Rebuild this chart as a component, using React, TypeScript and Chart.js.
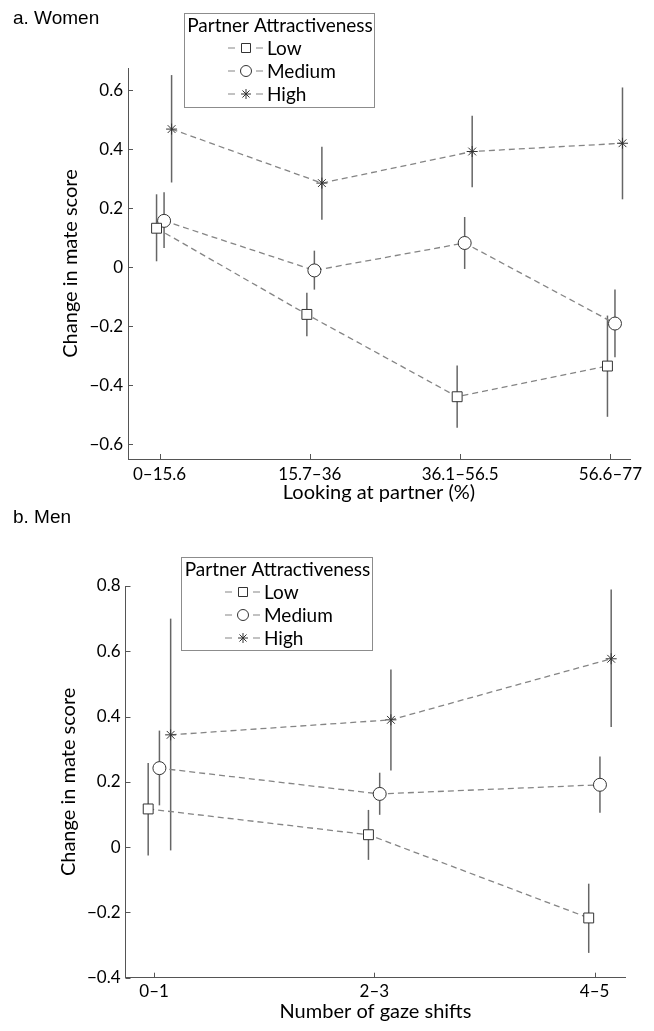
import React, { useEffect, useRef } from 'react';
import { Chart, registerables } from 'chart.js';

Chart.register(...registerables);

// ---------- DATA ----------
const womenCategories = ['0–15.6', '15.7–36', '36.1–56.5', '56.6–77'];
const womenYTicks = [-0.6, -0.4, -0.2, 0, 0.2, 0.4, 0.6];
const womenLow = [0.132, -0.16, -0.439, -0.335];
const womenLowLo = [0.02, -0.234, -0.544, -0.507];
const womenLowHi = [0.247, -0.087, -0.333, -0.164];
const womenMedium = [0.157, -0.011, 0.082, -0.191];
const womenMediumLo = [0.065, -0.076, -0.006, -0.305];
const womenMediumHi = [0.254, 0.056, 0.17, -0.076];
const womenHigh = [0.468, 0.285, 0.392, 0.42];
const womenHighLo = [0.287, 0.161, 0.271, 0.23];
const womenHighHi = [0.651, 0.408, 0.513, 0.609];

const menCategories = ['0–1', '2–3', '4–5'];
const menYTicks = [-0.4, -0.2, 0, 0.2, 0.4, 0.6, 0.8];
const menLow = [0.117, 0.038, -0.217];
const menLowLo = [-0.026, -0.039, -0.324];
const menLowHi = [0.258, 0.114, -0.112];
const menMedium = [0.242, 0.163, 0.191];
const menMediumLo = [0.128, 0.099, 0.105];
const menMediumHi = [0.357, 0.228, 0.278];
const menHigh = [0.344, 0.39, 0.577];
const menHighLo = [-0.01, 0.235, 0.368];
const menHighHi = [0.7, 0.544, 0.789];

const seriesNames = ['Low', 'Medium', 'High'];
const legendTitle = 'Partner Attractiveness';

// ---------- STYLE ----------
const FONT = 'Lato';
const LINE_COLOR = '#858585';
const MARKER_COLOR = '#333333';
const ERR_COLOR = '#666666';
const AXIS_COLOR = '#555555';
const TEXT_COLOR = '#000000';

const markerStyles = [
  { pointStyle: 'rect', radius: 7 },
  { pointStyle: 'circle', radius: 6.5 },
  { pointStyle: 'star', radius: 5.5 },
];

function fmtY(v: number): string {
  if (Math.abs(v) < 1e-9) return '0';
  const s = Math.abs(v).toFixed(1);
  return v < 0 ? '\u2212' + s : s;
}

function drawMarker(ctx: CanvasRenderingContext2D, style: string, x: number, y: number, r: number) {
  ctx.save();
  ctx.fillStyle = '#ffffff';
  ctx.strokeStyle = MARKER_COLOR;
  ctx.lineWidth = 1;
  ctx.beginPath();
  if (style === 'rect') {
    ctx.rect(x - r, y - r, 2 * r, 2 * r);
    ctx.fill();
    ctx.stroke();
  } else if (style === 'circle') {
    ctx.arc(x, y, r, 0, Math.PI * 2);
    ctx.fill();
    ctx.stroke();
  } else {
    const d = r * Math.SQRT1_2;
    ctx.moveTo(x - r, y); ctx.lineTo(x + r, y);
    ctx.moveTo(x, y - r); ctx.lineTo(x, y + r);
    ctx.moveTo(x - d, y - d); ctx.lineTo(x + d, y + d);
    ctx.moveTo(x - d, y + d); ctx.lineTo(x + d, y - d);
    ctx.stroke();
  }
  ctx.restore();
}

const figurePlugin = {
  id: 'figure',
  beforeDatasetsDraw(chart: any, _args: any, opts: any) {
    const { ctx, scales } = chart;
    const x = scales.x, y = scales.y;
    ctx.save();
    ctx.strokeStyle = ERR_COLOR;
    ctx.lineWidth = 1.5;
    opts.errors.forEach((s: any) => {
      s.lo.forEach((lo: number, i: number) => {
        const px = x.getPixelForValue(i + 1 + s.offset);
        ctx.beginPath();
        ctx.moveTo(px, y.getPixelForValue(lo));
        ctx.lineTo(px, y.getPixelForValue(s.hi[i]));
        ctx.stroke();
      });
    });
    ctx.restore();
  },
  afterDraw(chart: any, _args: any, opts: any) {
    const { ctx, scales, chartArea } = chart;
    const x = scales.x, y = scales.y;
    ctx.save();
    // inside tick marks
    ctx.strokeStyle = AXIS_COLOR;
    ctx.lineWidth = 1;
    x.ticks.forEach((t: any) => {
      const px = Math.round(x.getPixelForValue(t.value)) + 0.5;
      ctx.beginPath();
      ctx.moveTo(px, chartArea.bottom);
      ctx.lineTo(px, chartArea.bottom - 5);
      ctx.stroke();
    });
    y.ticks.forEach((t: any) => {
      const py = Math.round(y.getPixelForValue(t.value)) + 0.5;
      ctx.beginPath();
      ctx.moveTo(chartArea.left, py);
      ctx.lineTo(chartArea.left + 5, py);
      ctx.stroke();
    });
    // panel label
    ctx.fillStyle = TEXT_COLOR;
    ctx.font = '19px "Liberation Sans", Arial, sans-serif';
    ctx.textAlign = 'left';
    ctx.textBaseline = 'alphabetic';
    ctx.fillText(opts.label, 13, opts.labelY);
    // legend
    const L = opts.legend;
    ctx.fillStyle = '#ffffff';
    ctx.fillRect(L.left, L.top, L.width, L.height);
    ctx.strokeStyle = '#8c8c8c';
    ctx.lineWidth = 1;
    ctx.strokeRect(L.left + 0.5, L.top + 0.5, L.width, L.height);
    ctx.fillStyle = TEXT_COLOR;
    ctx.font = `19px ${FONT}`;
    ctx.textAlign = 'center';
    ctx.textBaseline = 'middle';
    ctx.fillText(legendTitle, L.left + L.width / 2 + 1, L.top + 13);
    seriesNames.forEach((name, i) => {
      const ry = L.top + 35 + i * 23;
      const mx = L.left + 62;
      ctx.save();
      ctx.strokeStyle = LINE_COLOR;
      ctx.lineWidth = 1.2;
      ctx.beginPath();
      ctx.moveTo(mx - 18, ry); ctx.lineTo(mx - 11, ry);
      ctx.moveTo(mx + 10, ry); ctx.lineTo(mx + 17, ry);
      ctx.stroke();
      ctx.restore();
      const ms = markerStyles[i];
      drawMarker(ctx, ms.pointStyle, mx, ry, ms.pointStyle === 'rect' ? 4.5 : ms.pointStyle === 'circle' ? 5.5 : 5);
      ctx.fillStyle = TEXT_COLOR;
      ctx.font = `19px ${FONT}`;
      ctx.textAlign = 'left';
      ctx.textBaseline = 'middle';
      ctx.fillText(name, mx + 21, ry + 1);
    });
    ctx.restore();
  },
};

interface PanelSpec {
  categories: string[];
  yTicks: number[];
  series: number[][];
  los: number[][];
  his: number[][];
  offsets: number[];
  xMin: number; xMax: number; yMin: number; yMax: number;
  xTitle: string;
  label: string; labelY: number;
  padTop: number; padRight: number;
  yWidth: number; xHeight: number;
  tickPadX: number; titlePadX: number; titlePadY: number;
  legend: { left: number; top: number; width: number; height: number };
}

function buildConfig(p: PanelSpec): any {
  const datasets = p.series.map((vals, si) => ({
    label: seriesNames[si],
    data: vals.map((v, i) => ({ x: i + 1 + p.offsets[si], y: v })),
    borderColor: LINE_COLOR,
    borderWidth: 1.3,
    borderDash: [6, 4],
    fill: false,
    tension: 0,
    pointStyle: markerStyles[si].pointStyle,
    pointRadius: markerStyles[si].radius,
    pointBackgroundColor: '#ffffff',
    pointBorderColor: MARKER_COLOR,
    pointBorderWidth: 1,
  }));
  const font = { family: FONT, size: 17 };
  const titleFont = { family: FONT, size: 20 };
  return {
    type: 'line',
    data: { datasets },
    plugins: [figurePlugin],
    options: {
      animation: false,
      responsive: false,
      maintainAspectRatio: false,
      layout: { padding: { top: p.padTop, right: p.padRight, left: 0, bottom: 0 } },
      plugins: {
        legend: { display: false },
        tooltip: { enabled: false },
        figure: {
          errors: p.los.map((lo, si) => ({ lo, hi: p.his[si], offset: p.offsets[si] })),
          label: p.label,
          labelY: p.labelY,
          legend: p.legend,
        },
      },
      scales: {
        x: {
          type: 'linear',
          min: p.xMin,
          max: p.xMax,
          grid: { display: false, drawTicks: false },
          border: { display: true, color: AXIS_COLOR, width: 1 },
          afterBuildTicks: (s: any) => { s.ticks = p.categories.map((_, i) => ({ value: i + 1 })); },
          afterFit: (s: any) => { s.height = p.xHeight; },
          ticks: {
            autoSkip: false,
            maxRotation: 0,
            padding: p.tickPadX,
            color: TEXT_COLOR,
            font,
            callback: (_v: any, i: number) => p.categories[i] ?? '',
          },
          title: { display: true, text: p.xTitle, color: TEXT_COLOR, font: titleFont, padding: { top: 0, bottom: p.titlePadX } },
        },
        y: {
          type: 'linear',
          min: p.yMin,
          max: p.yMax,
          grid: { display: false, drawTicks: false },
          border: { display: true, color: AXIS_COLOR, width: 1 },
          afterBuildTicks: (s: any) => { s.ticks = p.yTicks.map((v) => ({ value: v })); },
          afterFit: (s: any) => { s.width = p.yWidth; },
          ticks: {
            padding: 5,
            color: TEXT_COLOR,
            font,
            callback: (v: any) => fmtY(Number(v)),
          },
          title: { display: true, text: 'Change in mate score', color: TEXT_COLOR, font: titleFont, padding: { top: p.titlePadY, bottom: 0 } },
        },
      },
    },
  };
}

const womenSpec: PanelSpec = {
  categories: womenCategories,
  yTicks: womenYTicks,
  series: [womenLow, womenMedium, womenHigh],
  los: [womenLowLo, womenMediumLo, womenHighLo],
  his: [womenLowHi, womenMediumHi, womenHighHi],
  offsets: [-0.02, 0.03, 0.08],
  xMin: 0.79, xMax: 4.13, yMin: -0.65, yMax: 0.675,
  xTitle: 'Looking at partner (%)',
  label: 'a. Women', labelY: 24,
  padTop: 68, padRight: 24,
  yWidth: 128, xHeight: 46,
  tickPadX: 5.5, titlePadX: 0, titlePadY: 59,
  legend: { left: 184, top: 13, width: 190, height: 94 },
};

const menSpec: PanelSpec = {
  categories: menCategories,
  yTicks: menYTicks,
  series: [menLow, menMedium, menHigh],
  los: [menLowLo, menMediumLo, menHighLo],
  his: [menLowHi, menMediumHi, menHighHi],
  offsets: [-0.027, 0.024, 0.075],
  xMin: 0.87, xMax: 3.14, yMin: -0.4, yMax: 0.8,
  xTitle: 'Number of gaze shifts',
  label: 'b. Men', labelY: 18,
  padTop: 81, padRight: 28.5,
  yWidth: 125.5, xHeight: 53.3,
  tickPadX: 4, titlePadX: 7, titlePadY: 57,
  legend: { left: 181, top: 52, width: 191, height: 93 },
};

function Panel({ spec, top, height }: { spec: PanelSpec; top: number; height: number }) {
  const ref = useRef<HTMLCanvasElement | null>(null);
  useEffect(() => {
    if (!ref.current) return;
    const chart = new Chart(ref.current, buildConfig(spec));
    return () => chart.destroy();
  }, [spec]);
  return (
    <canvas
      ref={ref}
      width={654}
      height={height}
      style={{ position: 'absolute', left: 0, top, width: 654, height, display: 'block' }}
    />
  );
}

export default function App() {
  return (
    <div style={{ position: 'absolute', left: 0, top: 0, width: 654, height: 1031, background: '#ffffff', overflow: 'hidden' }}>
      <Panel spec={womenSpec} top={0} height={505} />
      <Panel spec={menSpec} top={505} height={526} />
    </div>
  );
}
